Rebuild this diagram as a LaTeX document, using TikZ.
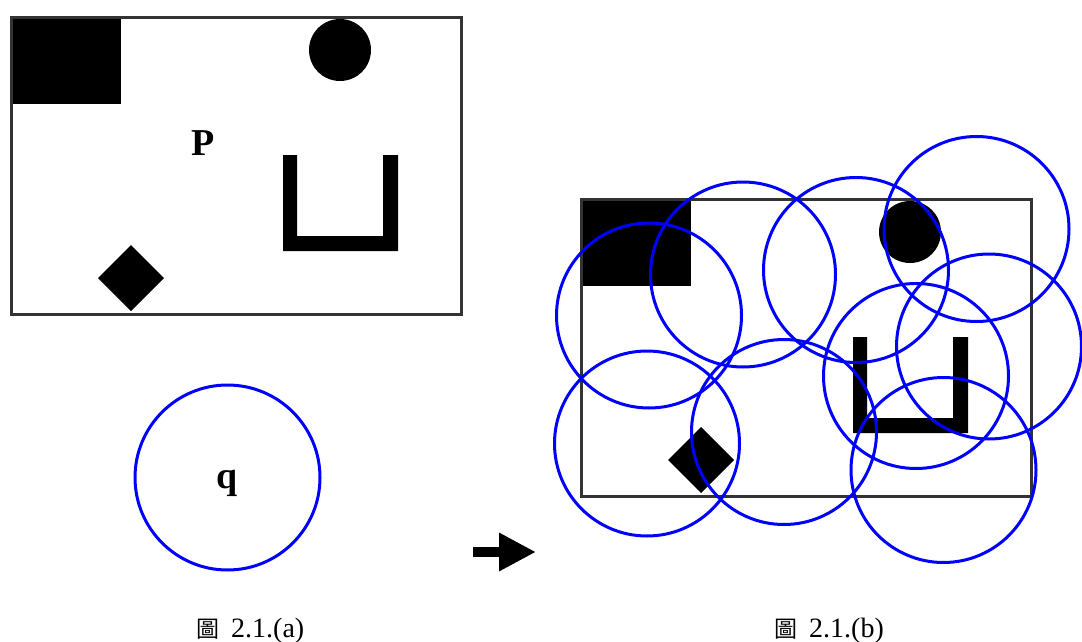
\documentclass[tikz,border=0pt]{standalone}
\usepackage{fontspec}
\setmainfont{Liberation Serif}
\newfontfamily\cjkfont{Noto Sans CJK TC}
\usetikzlibrary{arrows.meta}

% workspace with its obstacles, in local pixel coordinates
\newcommand{\workarea}{%
  \fill[obst] (11,17.5) rectangle (121,104);
  \fill[obst] (340,50) circle (31);
  \fill[obst] (131,245) -- (164,278) -- (131,311) -- (98,278) -- cycle;
  \fill[obst] (283,155) -- (297,155) -- (297,236) -- (383,236)
    -- (383,155) -- (398,155) -- (398,251) -- (283,251) -- cycle;
  \draw[frame] (11,17.5) rectangle (461,314.5);
}

\begin{document}
\begin{tikzpicture}[x=1pt, y=-1pt,
    frame/.style={draw=black!80, line width=3pt},
    obst/.style={fill=black},
    robot/.style={draw=blue, line width=3pt},
    caption/.style={anchor=base west, inner sep=0pt, font=\fontsize{28}{30}\selectfont},
    label/.style={anchor=base, inner sep=0pt, font=\fontsize{38}{40}\selectfont\bfseries},
    arr/.style={line width=9.5pt, -{Triangle[length=37pt, width=36pt]}}
  ]
    \useasboundingbox (0,0) rectangle (1082,642);
    \clip (0,0) rectangle (1082,642);

    % (a) workspace P and robot q
    \workarea
    \node[label] (lp) at (203,155) {P};
    \draw[robot] (227.5,477.5) circle (92.5);
    \node[label] (lq) at (227,488) {q};

    % arrow
    \coordinate (as) at (473,552);
    \coordinate (ae) at (536,552);
    \draw[arr] (as) -- (ae);

    % (b) robot placed around the obstacles
    \begin{scope}[shift={(570,182)}]
      \workarea
    \end{scope}
    \foreach \cx/\cy in {649/315.5, 743/274.5, 647/443.5, 784/432, 856/270,
                         976.5/229, 916/376, 989/346.5, 943.5/470}
      \draw[robot] (\cx,\cy) circle (92.5);

    % captions
    \node[caption] (ca) at (196,637) {{\cjkfont\fontsize{23}{23}\selectfont 圖}\hspace{12pt}2.1.(a)};
    \node[caption] (cb) at (774,637) {{\cjkfont\fontsize{23}{23}\selectfont 圖}\hspace{12pt}2.1.(b)};
  \end{tikzpicture}
\end{document}
